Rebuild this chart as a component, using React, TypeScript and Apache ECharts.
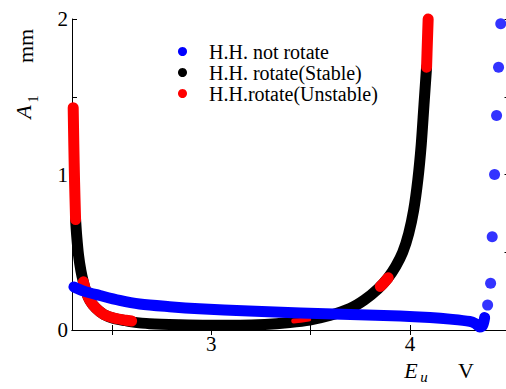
import React, { useEffect, useRef } from "react";
import * as echarts from "echarts";

// Tick positions
const xTickValues = [2.5, 3, 3.5, 4, 4.5];
const xLabelValues = [3, 4];
const yLabelValues = [0, 1, 2];

// H.H. rotate, stable branch (E_u [V], A_1 [mm])
const stableBranch: number[][] = [
  [2.318, 0.71], [2.324, 0.6], [2.333, 0.48], [2.345, 0.38], [2.357, 0.31],
  [2.37, 0.25], [2.39, 0.19], [2.42, 0.14], [2.46, 0.1], [2.51, 0.075],
  [2.57, 0.06], [2.6, 0.052], [2.69, 0.04], [2.84, 0.033], [2.99, 0.03],
  [3.145, 0.03], [3.27, 0.035], [3.395, 0.048], [3.495, 0.064], [3.595, 0.093],
  [3.697, 0.138], [3.77, 0.193], [3.838, 0.264], [3.888, 0.334], [3.928, 0.41],
  [3.963, 0.5], [3.993, 0.62], [4.018, 0.77], [4.039, 0.965], [4.056, 1.19],
  [4.07, 1.45], [4.083, 1.69],
];

// H.H. rotate, unstable pieces
const unstableUpperLeft: number[][] = [
  [2.306, 1.43], [2.309, 1.2], [2.313, 0.95], [2.318, 0.71],
];
const unstableLowerLeft: number[][] = [
  [2.357, 0.31], [2.37, 0.25], [2.39, 0.19], [2.42, 0.14], [2.46, 0.1],
  [2.51, 0.077], [2.57, 0.063], [2.6, 0.058],
];
const unstableBottom: number[][] = [
  [3.415, 0.058], [3.45, 0.062], [3.49, 0.07],
];
const unstableMiddle: number[][] = [
  [3.85, 0.28], [3.87, 0.305], [3.89, 0.336],
];
const unstableUpperRight: number[][] = [
  [4.083, 1.69], [4.087, 1.85], [4.091, 2.0],
];

// H.H. not rotate
const notRotateCurve: number[][] = [
  [2.31, 0.277], [2.36, 0.25], [2.44, 0.222], [2.54, 0.19], [2.64, 0.167],
  [2.79, 0.15], [2.94, 0.137], [3.19, 0.122], [3.45, 0.11], [3.7, 0.1],
  [3.95, 0.09], [4.1, 0.08], [4.2, 0.07], [4.3, 0.055], [4.33, 0.04],
  [4.35, 0.02], [4.365, 0.03], [4.375, 0.08],
];
const notRotateDots: number[][] = [
  [4.39, 0.16], [4.405, 0.3], [4.413, 0.6], [4.425, 1.0], [4.435, 1.38],
  [4.445, 1.69], [4.456, 1.97],
];

const NAME_NOT = "H.H. not rotate";
const NAME_STABLE = "H.H. rotate(Stable)";
const NAME_UNSTABLE = "H.H.rotate(Unstable)";

const SERIF = "'Liberation Serif', 'Times New Roman', serif";
const LINE_W = 11;

function curve(name: string, color: string, data: number[][], z: number, width = LINE_W) {
  return {
    name,
    type: "line",
    data,
    smooth: 0.3,
    showSymbol: false,
    symbol: "none",
    clip: false,
    z,
    itemStyle: { color },
    lineStyle: { color, width, cap: "round", join: "round" },
  };
}

export default function App() {
  const ref = useRef<HTMLDivElement>(null);

  useEffect(() => {
    if (!ref.current) return;
    const chart = echarts.init(ref.current, undefined, { renderer: "svg" });

    const axisCommon = {
      type: "value",
      axisLine: { show: true, lineStyle: { color: "#000", width: 1 } },
      splitLine: { show: false },
    };

    chart.setOption({
      animation: false,
      backgroundColor: "#fff",
      grid: {
        left: 72,
        top: 19,
        width: 437.5,
        height: 311,
        outerBoundsMode: "none",
        containLabel: false,
      },
      legend: {
        orient: "vertical",
        left: 173,
        top: 36,
        icon: "circle",
        itemWidth: 9,
        itemHeight: 9,
        itemGap: 0,
        data: [NAME_NOT, NAME_STABLE, NAME_UNSTABLE],
        textStyle: {
          fontFamily: SERIF,
          fontSize: 20,
          lineHeight: 21,
          color: "#000",
          padding: [0, 0, 0, 17],
        },
      },
      xAxis: [
        {
          ...axisCommon,
          position: "bottom",
          min: 2.3,
          max: 4.5,
          axisTick: { show: true, inside: true, length: 5, customValues: xTickValues, lineStyle: { color: "#000" } },
          axisLabel: {
            show: true,
            customValues: xLabelValues,
            margin: 3,
            color: "#000",
            fontFamily: SERIF,
            fontSize: 21,
          },
        },
        {
          ...axisCommon,
          position: "top",
          min: 2.3,
          max: 4.5,
          axisTick: { show: true, inside: true, length: 5, customValues: xTickValues, lineStyle: { color: "#000" } },
          axisLabel: { show: false },
        },
      ],
      yAxis: [
        {
          ...axisCommon,
          position: "left",
          min: 0,
          max: 2,
          interval: 0.5,
          axisTick: { show: true, inside: true, length: 5, lineStyle: { color: "#000" } },
          axisLabel: {
            show: true,
            customValues: yLabelValues,
            margin: 4,
            color: "#000",
            fontFamily: SERIF,
            fontSize: 21,
          },
        },
        {
          ...axisCommon,
          position: "right",
          min: 0,
          max: 2,
          interval: 0.5,
          axisTick: { show: true, inside: true, length: 5, lineStyle: { color: "#000" } },
          axisLabel: { show: false },
        },
      ],
      series: [
        curve(NAME_STABLE, "#000000", stableBranch, 2),
        curve(NAME_UNSTABLE, "#ff0000", unstableUpperLeft, 3),
        curve(NAME_UNSTABLE, "#ff0000", unstableLowerLeft, 3),
        curve(NAME_UNSTABLE, "#ff0000", unstableBottom, 3, 5),
        curve(NAME_UNSTABLE, "#ff0000", unstableMiddle, 3),
        curve(NAME_UNSTABLE, "#ff0000", unstableUpperRight, 3),
        curve(NAME_NOT, "#0000ff", notRotateCurve, 4),
        {
          name: NAME_NOT,
          type: "scatter",
          data: notRotateDots,
          symbol: "circle",
          symbolSize: 11,
          clip: false,
          z: 4,
          itemStyle: { color: "#0000ff" },
        },
      ],
      graphic: [
        {
          type: "text",
          x: 25,
          y: 46,
          rotation: Math.PI / 2,
          style: { text: "mm", font: `22px ${SERIF}`, fill: "#000", align: "center", verticalAlign: "middle" },
        },
        {
          type: "text",
          x: 23,
          y: 112,
          rotation: Math.PI / 2,
          style: { text: "A", font: `italic 22px ${SERIF}`, fill: "#000", align: "center", verticalAlign: "middle" },
        },
        {
          type: "text",
          x: 33,
          y: 99,
          rotation: Math.PI / 2,
          style: { text: "1", font: `14px ${SERIF}`, fill: "#000", align: "center", verticalAlign: "middle" },
        },
        {
          type: "text",
          x: 411,
          y: 370,
          style: { text: "E", font: `italic 22px ${SERIF}`, fill: "#000", align: "center", verticalAlign: "middle" },
        },
        {
          type: "text",
          x: 424,
          y: 377,
          style: { text: "u", font: `italic 15px ${SERIF}`, fill: "#000", align: "center", verticalAlign: "middle" },
        },
        {
          type: "text",
          x: 466,
          y: 370,
          style: { text: "V", font: `22px ${SERIF}`, fill: "#000", align: "center", verticalAlign: "middle" },
        },
      ],
    });

    return () => chart.dispose();
  }, []);

  return (
    <div
      ref={ref}
      style={{ position: "fixed", left: 0, top: 0, width: 506, height: 389 }}
    />
  );
}
